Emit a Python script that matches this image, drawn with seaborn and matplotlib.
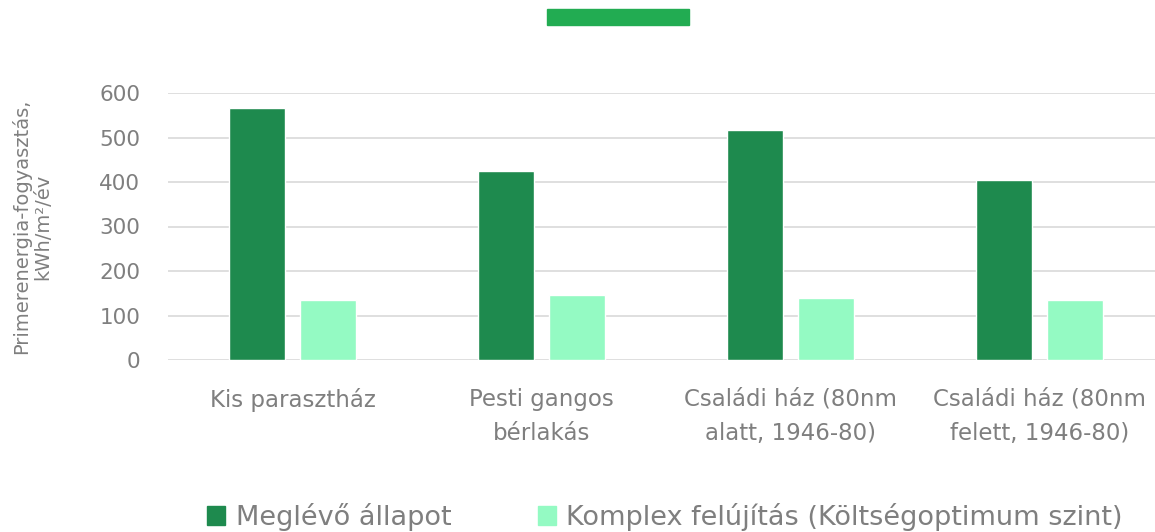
import pandas as pd
import matplotlib.pyplot as plt
import matplotlib.patches as mpatches
import seaborn as sns

categories = ["Kis parasztház", "Pesti gangos\nbérlakás",
              "Családi ház (80nm\nalatt, 1946-80)", "Családi ház (80nm\nfelett, 1946-80)"]
series_names = ["Meglévő állapot", "Komplex felújítás (Költségoptimum szint)"]
existing = [566, 425, 517, 404]
renovated = [135, 146, 139, 135]
yticks = [0, 100, 200, 300, 400, 500, 600]

df = pd.DataFrame({
    "cat": categories * 2,
    "series": [series_names[0]] * 4 + [series_names[1]] * 4,
    "value": existing + renovated,
})

sns.set_theme(style="white")
plt.rcParams['font.family'] = ['DejaVu Sans']
grey = "#7f7f7f"
colors = ["#1e8a4e", "#94fac3"]

fig = plt.figure(figsize=(11.55, 5.32), dpi=100)
ax = fig.add_axes([168 / 1155, 1 - 360 / 532, 1 - 168 / 1155, (360 - 93) / 532])

sns.barplot(data=df, x="cat", y="value", hue="series", palette=colors,
            width=0.57, gap=0.21, ax=ax, legend=False, saturation=1)

ax.set_ylim(0, 600)
ax.set_xlim(-0.5, 3.464)
ax.set_yticks(yticks)
ax.grid(axis="y", color="#d9d9d9", linewidth=1.2)
ax.set_axisbelow(True)
for s in ax.spines.values():
    s.set_visible(False)
ax.tick_params(axis="y", labelsize=15.5, colors=grey, pad=20, length=0)
ax.tick_params(axis="x", labelsize=16.5, colors=grey, pad=20, length=0)
for lab in ax.get_xticklabels():
    lab.set_linespacing(1.6)
ax.set_xlabel("")
ax.set_ylabel("Primerenergia-fogyasztás,\nkWh/m²/év", fontsize=14, color=grey,
              linespacing=1.15)
ax.yaxis.set_label_coords(-0.117, 0.5)

handles = [mpatches.Patch(color=c, label=n) for c, n in zip(colors, series_names)]
fig.legend(handles=handles, loc="center", bbox_to_anchor=(665 / 1155, 1 - 517 / 532),
           ncol=2, frameon=False, fontsize=19.5, labelcolor=grey, handlelength=0.65,
           handleheight=0.75, handletextpad=0.4, columnspacing=3.2)

# decorative bar at the top
fig.patches.append(mpatches.Rectangle((547 / 1155, 1 - 25 / 532), 142 / 1155, 16 / 532,
                                      transform=fig.transFigure, color="#22ac52"))

fig.savefig("out.png", dpi=100)
